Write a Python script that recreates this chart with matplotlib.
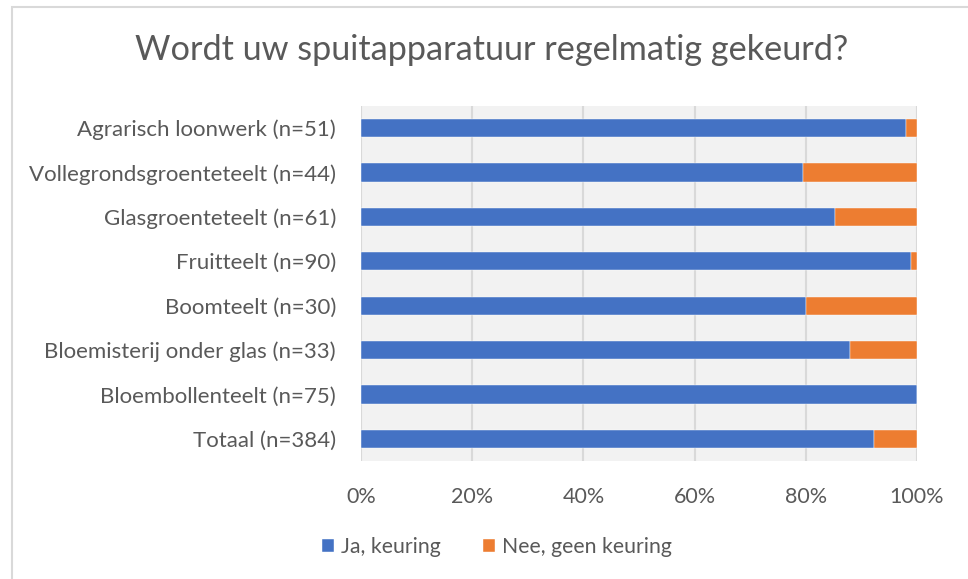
import matplotlib
matplotlib.use("Agg")
import matplotlib.pyplot as plt
from matplotlib.patches import Rectangle

categories = ["Agrarisch loonwerk (n=51)", "Vollegrondsgroenteteelt (n=44)", "Glasgroenteteelt (n=61)",
              "Fruitteelt (n=90)", "Boomteelt (n=30)", "Bloemisterij onder glas (n=33)",
              "Bloembollenteelt (n=75)", "Totaal (n=384)"]
ja = [98.0, 79.5, 85.2, 98.9, 80.0, 87.9, 100.0, 92.2]
nee = [100 - v for v in ja]
xticks = [0, 20, 40, 60, 80, 100]
xticklabels = ["0%", "20%", "40%", "60%", "80%", "100%"]
series_names = ["Ja, keuring", "Nee, geen keuring"]
title = "Wordt uw spuitapparatuur regelmatig gekeurd?"

plt.rcParams['font.family'] = ['Lato', 'DejaVu Sans']
txt = "#595959"

fig = plt.figure(figsize=(9.68, 5.79), dpi=100)
fig.patches.append(Rectangle((12/968, -0.1), 1.2, 1 - 7/579 + 0.1, transform=fig.transFigure,
                             facecolor="white", edgecolor="#D9D9D9", linewidth=1.5, zorder=-10))
ax = fig.add_axes([361/968, 1 - 461/579, 556/968, 355/579])
ax.set_facecolor("#F2F2F2")

y = list(range(len(categories)))
ax.barh(y, ja, height=0.41, color="#4472C4", label=series_names[0], zorder=3, edgecolor="white", linewidth=0.3)
ax.barh(y, nee, left=ja, height=0.41, color="#ED7D31", label=series_names[1], zorder=3, edgecolor="white", linewidth=0.3)

ax.set_xlim(0, 100)
ax.set_ylim(len(categories) - 0.5, -0.5)
ax.set_yticks(y)
ax.set_yticklabels(categories, fontsize=16, color=txt)
ax.set_xticks(xticks)
ax.set_xticklabels(xticklabels, fontsize=15.5, color=txt)
ax.tick_params(length=0)
ax.tick_params(axis='y', pad=18)
ax.tick_params(axis='x', pad=19)
ax.grid(axis='x', color="#D9D9D9", linewidth=1.5, zorder=0)
for s in ax.spines.values():
    s.set_visible(False)

fig.text(492/968, 1 - 50/579, title, ha="center", va="center", fontsize=24.7, color=txt)
fig.legend(loc="center", bbox_to_anchor=(497/968, 1 - 547/579), ncol=2, frameon=False,
           fontsize=15.3, labelcolor=txt, handlelength=0.55, handleheight=0.55, handletextpad=0.35,
           columnspacing=2.0)

fig.savefig("out.png", dpi=100)
